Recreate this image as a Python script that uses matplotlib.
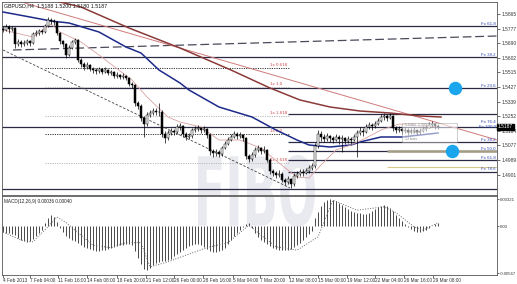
import numpy as np
import matplotlib
matplotlib.use("Agg")
import matplotlib.pyplot as plt
from matplotlib.patches import Rectangle, PathPatch
from matplotlib.textpath import TextPath
from matplotlib.font_manager import FontProperties
from matplotlib.transforms import Affine2D

plt.rcParams["font.family"] = ["Liberation Sans Narrow", "Liberation Sans", "DejaVu Sans"]

# GBPUSD H4 candles, open of each bar = previous close
first_open = 1.5775
close = [1.5769, 1.5787, 1.5775, 1.5781, 1.5685, 1.5697, 1.5685, 1.5691, 1.5703, 1.5691,
         1.5745, 1.5751, 1.5763, 1.5757, 1.5793, 1.5829, 1.5823, 1.5817, 1.5751, 1.5703,
         1.5685, 1.5619, 1.5661, 1.5697, 1.5709, 1.5589, 1.5565, 1.5547, 1.5559, 1.5535,
         1.5529, 1.5523, 1.5535, 1.5517, 1.5529, 1.5511, 1.5517, 1.5493, 1.5499, 1.5487,
         1.5493, 1.5481, 1.5445, 1.5439, 1.5331, 1.5313, 1.5241, 1.5205, 1.5259, 1.5271,
         1.5283, 1.5277, 1.5277, 1.5145, 1.5121, 1.5151, 1.5163, 1.5157, 1.5187, 1.5193,
         1.5145, 1.5127, 1.5133, 1.5169, 1.5175, 1.5181, 1.5169, 1.5175, 1.5139, 1.5043,
         1.5031, 1.5037, 1.5025, 1.5061, 1.5085, 1.5109, 1.5127, 1.5145, 1.5133, 1.5139,
         1.5121, 1.5013, 1.4995, 1.5019, 1.5049, 1.5061, 1.5043, 1.5049, 1.4989, 1.4923,
         1.4911, 1.4899, 1.4905, 1.4869, 1.4857, 1.4875, 1.4845, 1.4893, 1.4905, 1.4917,
         1.4911, 1.4923, 1.4941, 1.4953, 1.5073, 1.5145, 1.5127, 1.5115, 1.5133, 1.5121,
         1.5109, 1.5127, 1.5115, 1.5121, 1.5103, 1.5115, 1.5109, 1.5127, 1.5151, 1.5163,
         1.5157, 1.5187, 1.5199, 1.5193, 1.5205, 1.5223, 1.5247, 1.5253, 1.5241, 1.5253,
         1.5181, 1.5169, 1.5175, 1.5163, 1.5169, 1.5157, 1.5163, 1.5169, 1.5157, 1.5163,
         1.5175, 1.5181, 1.5199, 1.5205, 1.5193, 1.5187]
high = [1.5793, 1.5805, 1.5799, 1.5793, 1.5787, 1.5715, 1.5709, 1.5709, 1.5715, 1.5709,
        1.5757, 1.5769, 1.5775, 1.5775, 1.5805, 1.5847, 1.5841, 1.5835, 1.5823, 1.5757,
        1.5709, 1.5691, 1.5679, 1.5709, 1.5721, 1.5715, 1.5601, 1.5577, 1.5577, 1.5565,
        1.5547, 1.5541, 1.5547, 1.5541, 1.5547, 1.5535, 1.5529, 1.5523, 1.5517, 1.5505,
        1.5511, 1.5499, 1.5487, 1.5457, 1.5445, 1.5343, 1.5325, 1.5253, 1.5277, 1.5289,
        1.5301, 1.5301, 1.5331, 1.5289, 1.5163, 1.5169, 1.5181, 1.5175, 1.5205, 1.5211,
        1.5199, 1.5157, 1.5151, 1.5181, 1.5193, 1.5199, 1.5187, 1.5193, 1.5181, 1.5151,
        1.5055, 1.5055, 1.5049, 1.5073, 1.5103, 1.5127, 1.5145, 1.5163, 1.5157, 1.5157,
        1.5145, 1.5127, 1.5025, 1.5037, 1.5067, 1.5079, 1.5067, 1.5073, 1.5055, 1.5001,
        1.4935, 1.4923, 1.4929, 1.4917, 1.4881, 1.4893, 1.4881, 1.4911, 1.4923, 1.4935,
        1.4935, 1.4941, 1.4959, 1.4971, 1.5091, 1.5169, 1.5163, 1.5145, 1.5151, 1.5139,
        1.5133, 1.5145, 1.5139, 1.5139, 1.5127, 1.5133, 1.5127, 1.5145, 1.5169, 1.5187,
        1.5181, 1.5205, 1.5217, 1.5211, 1.5223, 1.5241, 1.5265, 1.5271, 1.5265, 1.5271,
        1.5259, 1.5193, 1.5193, 1.5187, 1.5187, 1.5181, 1.5181, 1.5187, 1.5175, 1.5181,
        1.5193, 1.5199, 1.5217, 1.5223, 1.5211, 1.5205]
low = [1.5757, 1.5763, 1.5751, 1.5763, 1.5661, 1.5673, 1.5667, 1.5673, 1.5679, 1.5673,
       1.5685, 1.5733, 1.5739, 1.5745, 1.5751, 1.5787, 1.5805, 1.5799, 1.5739, 1.5685,
       1.5667, 1.5601, 1.5613, 1.5655, 1.5685, 1.5577, 1.5547, 1.5529, 1.5535, 1.5523,
       1.5511, 1.5505, 1.5511, 1.5505, 1.5511, 1.5499, 1.5499, 1.5481, 1.5481, 1.5475,
       1.5475, 1.5469, 1.5433, 1.5421, 1.5313, 1.5295, 1.5223, 1.5127, 1.5193, 1.5247,
       1.5259, 1.5259, 1.5253, 1.5127, 1.5091, 1.5109, 1.5139, 1.5139, 1.5151, 1.5169,
       1.5127, 1.5109, 1.5115, 1.5121, 1.5157, 1.5163, 1.5151, 1.5157, 1.5121, 1.5019,
       1.5007, 1.5013, 1.5007, 1.5013, 1.5055, 1.5079, 1.5103, 1.5121, 1.5115, 1.5121,
       1.5103, 1.4995, 1.4977, 1.4983, 1.5007, 1.5037, 1.5025, 1.5031, 1.4977, 1.4905,
       1.4893, 1.4881, 1.4887, 1.4857, 1.4839, 1.4845, 1.4821, 1.4833, 1.4881, 1.4893,
       1.4893, 1.4905, 1.4911, 1.4929, 1.4941, 1.5061, 1.5103, 1.5097, 1.5103, 1.5097,
       1.5091, 1.5103, 1.5085, 1.5037, 1.5085, 1.5091, 1.5085, 1.5103, 1.5007, 1.5139,
       1.5133, 1.5151, 1.5175, 1.5169, 1.5181, 1.5199, 1.5217, 1.5229, 1.5223, 1.5235,
       1.5163, 1.5151, 1.5157, 1.5145, 1.5151, 1.5139, 1.5145, 1.5151, 1.5139, 1.5145,
       1.5157, 1.5163, 1.5181, 1.5187, 1.5175, 1.5175]

# moving averages, read at sample bars
blue_ma_bar = [0, 9, 16, 22, 32, 41, 46, 52, 59, 62, 72, 83, 91, 98, 102, 109, 116, 119, 126, 133, 145]
blue_ma = [1.5877, 1.5847, 1.5823, 1.5811, 1.5757, 1.5667, 1.5631, 1.5529, 1.5451, 1.5409, 1.5307,
           1.5247, 1.5169, 1.5109, 1.5079, 1.5067, 1.5079, 1.5097, 1.5127, 1.5127, 1.5151]
brown_ma_bar = [14, 19, 26, 42, 59, 76, 89, 99, 109, 119, 129, 139, 146]
brown_ma = [1.5997, 1.5937, 1.5907, 1.5781, 1.5661, 1.5529, 1.5421, 1.5349, 1.5307, 1.5283,
            1.5271, 1.5253, 1.5247]
pink_ma_bar = [0, 10, 16, 19, 26, 32, 43, 48, 55, 59, 66, 72, 79, 86, 92, 98, 102, 106, 111,
               116, 121, 126, 132, 139, 145]
pink_ma = [1.5769, 1.5727, 1.5805, 1.5757, 1.5697, 1.5619, 1.5469, 1.5367, 1.5247, 1.5217,
           1.5187, 1.5109, 1.5109, 1.5061, 1.4971, 1.4887, 1.4881, 1.4959, 1.5049, 1.5079,
           1.5121, 1.5169, 1.5205, 1.5193, 1.5187]

# trend lines (bar, price endpoints)
long_line = ([3.3, 164.7], [1.5649, 1.5733])
channel_line = ([0, 95.7], [1.5649, 1.4821])
red_trend = ([7.3, 164.7], [1.5931, 1.5109])

# horizontal levels
full_levels = [1.5793, 1.5607, 1.5421, 1.5187, 1.4815]
right_levels = [1.5265, 1.5097, 1.5043, 1.4989, 1.4919]
expansion_levels = [1.5541, 1.5427, 1.5253, 1.5145, 1.4971]
expansion_labels = ["1x 0.618", "1x 1.0", "1x 1.618", "1x 2.0", "1x 2.618"]
fib_labels = [("Fx 61.8", 1.5793), ("Fx 38.2", 1.5607), ("Fx 23.6", 1.5421),
              ("Fx 76.4", 1.5205), ("Fx 100.0", 1.5172), ("Fx 38.2", 1.5097),
              ("Fx 50.0", 1.5043), ("Fx 61.8", 1.4989), ("Fx 78.6", 1.4919)]
olive_level = 1.5043
khaki_level = 1.4947
circle_bar = [150.7, 149.7]
circle_price = [1.5421, 1.5043]
price_ticks = [1.5865, 1.5777, 1.5690, 1.5602, 1.5515, 1.5427, 1.5339, 1.5252,
               1.5164, 1.5077, 1.4989, 1.4901]
last_price = 1.5187

# MACD histogram and signal
macd_hist = [-0.0007, -0.0008, -0.0008, -0.001, -0.0011,
             -0.0014, -0.0017, -0.0018, -0.0019, -0.0018, -0.0016,
             -0.0012, -0.0008, -0.0005,
             0.0004, 0.001, 0.0013, 0.0011,
             0.0005, -0.0002,
             -0.0007, -0.0012, -0.0014, -0.0017, -0.0018, -0.002, -0.0023, -0.0025, -0.0026,
             -0.0028, -0.0029, -0.003, -0.003, -0.0029, -0.0029, -0.0028,
             -0.0026, -0.0025, -0.0024, -0.0023, -0.0023, -0.0022, -0.0022, -0.0023,
             -0.003, -0.0038, -0.0046, -0.0052, -0.0053, -0.005,
             -0.0047, -0.0044, -0.0043, -0.0042, -0.0042, -0.0041, -0.004,
             -0.0036, -0.0034, -0.0031, -0.0029, -0.0026, -0.0024, -0.0023, -0.0022, -0.0022,
             -0.0023, -0.0025, -0.0028, -0.003, -0.0031, -0.0031, -0.003, -0.0029, -0.0026,
             -0.0022, -0.0017, -0.0012, -0.0008, -0.0005, -0.0001, 0.0002, 0.0004, -0.0002, -0.0008, -0.0013,
             -0.0017, -0.0019, -0.0022, -0.0024, -0.0026, -0.0028, -0.0029, -0.0029, -0.0029, -0.0029, -0.0028,
             -0.0025, -0.0023, -0.002, -0.0017, -0.0013, -0.001, -0.0006,
             0.001, 0.0017, 0.0024, 0.0029, 0.0031, 0.0032, 0.0031, 0.003,
             0.0028, 0.0025, 0.0023, 0.002, 0.0018, 0.0017, 0.0016,
             0.0016, 0.0014, 0.0014, 0.0016,
             0.0018, 0.002, 0.0023, 0.0024, 0.0025, 0.0024, 0.0022,
             0.0018, 0.0013, 0.001, 0.0006,
             0.0002, -0.0001, -0.0004,
             -0.0006, -0.0007, -0.0007, -0.0006, -0.0005,
             -0.0002, 0.0, 0.0002, 0.0004]
signal_bar = [0, 6, 10, 15, 18, 21, 25, 30, 36, 41, 46, 49, 55, 61, 68, 75, 79, 82, 85, 91,
              98, 105, 110, 118, 127, 131, 137, 140, 145]
signal = [-0.0007, -0.0017, -0.0019, -0.0001, 0.0011, 0.0004, -0.0008, -0.0023, -0.0026,
          -0.002, -0.002, -0.0049, -0.0043, -0.0035, -0.0026, -0.002, -0.0008, 0.0001,
          -0.0008, -0.0025, -0.0029, -0.0013, 0.0031, 0.0019, 0.0023, 0.0016, -0.0001,
          -0.0005, 0.0004]
macd_ticks = [0.00321, 0.0, -0.00567]
macd_tick_labels = ["0.00321", "0.00", "-0.00567"]

date_bar = [0, 9, 18.3, 28, 38, 47.7, 57, 66.7, 76.7, 85.7, 95.3, 105, 114.7, 124, 133.7, 143.3]
date_labels = ["4 Feb 2013", "7 Feb 04:00", "11 Feb 16:00", "14 Feb 08:00", "18 Feb 20:00",
               "21 Feb 12:00", "26 Feb 00:00", "28 Feb 16:00", "5 Mar 04:00", "7 Mar 20:00",
               "12 Mar 08:00", "15 Mar 00:00", "19 Mar 12:00", "22 Mar 04:00", "26 Mar 16:00",
               "29 Mar 08:00"]

W, H = 517, 284
fig = plt.figure(figsize=(W / 100, H / 100), dpi=100)
fig.patch.set_facecolor("white")
ax = fig.add_axes([2 / W, 1 - 195 / H, 495 / W, 193 / H])
ax2 = fig.add_axes([2 / W, 1 - 275 / H, 495 / W, 79 / H])
for a in (ax, ax2):
    a.set_facecolor("none")
    a.set_xlim(-0.33, 164.67)
    for s in a.spines.values():
        s.set_linewidth(0.6)
        s.set_color("#555")
ax.set_ylim(1.4779, 1.5937)
ax2.set_ylim(-0.00588, 0.0036)

# FIBO watermark
tp = TextPath((0, 0), "FIBO", size=1, prop=FontProperties(family="DejaVu Sans", weight="bold"))
ext = tp.get_extents()
tr = (Affine2D().translate(-ext.x0, -ext.y0)
      .scale((117 / W) / ext.width, (72 / H) / ext.height)
      .translate(198 / W, 1 - 227 / H) + fig.transFigure)
fig.add_artist(PathPatch(tp, transform=tr, facecolor="#e8eaf0", edgecolor="none", zorder=-5))

# horizontal levels
for p in full_levels:
    ax.axhline(p, color="#2a2a45", lw=0.9, zorder=2)
ax.hlines(right_levels, 95, 164.67, color="#2a2a45", lw=0.9, zorder=2)
ax.hlines(olive_level, 128, 164.67, color="#a39d86", lw=1.8, zorder=2)
ax.hlines(khaki_level, 128, 164.67, color="#d8c98f", lw=0.8, zorder=2)
for i, (p, t) in enumerate(zip(expansion_levels, expansion_labels)):
    col = "#333333" if i in (0, 3) else "#b8b8b8"
    ax.hlines(p, 14, 95.7, color=col, lw=0.7, linestyles=(0, (1.2, 1.2)), zorder=2)
    ax.text(89, p + 0.0004, t, fontsize=3.2, color="#d04545", ha="left", va="bottom", zorder=3)
for t, p in fib_labels:
    ax.text(164.2, p + 0.0002, t, fontsize=3.2, color="#2c44b0", ha="right", va="bottom", zorder=3)

# trend lines
ax.plot(*long_line, color="#4a4a5a", lw=0.9, dashes=(7, 3), zorder=2)
ax.plot(*channel_line, color="#444", lw=0.6, dashes=(3, 2), zorder=2)
ax.plot(*red_trend, color="#cf7a7a", lw=0.7, zorder=2)

# moving averages
ax.plot(brown_ma_bar, brown_ma, color="#8a3b38", lw=1.1, zorder=3)
ax.plot(blue_ma_bar, blue_ma, color="#1c2a8a", lw=1.1, zorder=3)
ax.plot(pink_ma_bar, pink_ma, color="#d9a2a2", lw=0.6, zorder=3)

# candles
idx = np.arange(len(close))
c = np.array(close)
o = np.concatenate([[first_open], c[:-1]])
ax.vlines(idx, low, high, color="black", lw=0.5, zorder=4)
body = np.maximum(np.abs(c - o), 0.0002)
ax.bar(idx, body, bottom=np.minimum(o, c), width=0.55,
       color=np.where(c >= o, "white", "black"), edgecolor="black", linewidth=0.35, zorder=5)

# measurement box
ax.add_patch(Rectangle((133, 1.5097), 18.3, 0.0114, facecolor="white", alpha=0.55,
                       edgecolor="#9a9a9a", lw=0.6, zorder=6))
ax.text(134, 1.5190, "1.5265  1.5097", fontsize=2.6, color="#888", zorder=7)
ax.text(134, 1.5150, "-168 pips", fontsize=2.6, color="#888", zorder=7)
ax.text(134, 1.5110, "13 bars", fontsize=2.6, color="#888", zorder=7)

ax.scatter(circle_bar, circle_price, s=75, color="#1aa5ec", zorder=8)

ax.text(0.004, 0.992, "GBPUSD,H4  1.5188 1.5200 1.5180 1.5187", transform=ax.transAxes,
        fontsize=3.8, va="top", ha="left", color="#111", zorder=12)

ax.yaxis.tick_right()
ax.set_yticks(price_ticks)
ax.set_yticklabels([f"{v:.4f}" for v in price_ticks])
ax.tick_params(axis="y", labelsize=3.5, length=2, width=0.5, pad=1, colors="#333")
ax.set_xticks([])
ax.text(1.002, last_price, f"{last_price:.4f}", transform=ax.get_yaxis_transform(),
        fontsize=3.5, color="white", va="center", ha="left", clip_on=False, zorder=12,
        bbox=dict(boxstyle="square,pad=0.15", fc="black", ec="black"))

# MACD panel
ax2.vlines(idx, 0, macd_hist, color="#474747", lw=0.7)
ax2.plot(signal_bar, signal, ls=":", color="#666", lw=0.7)
ax2.text(0.004, 0.96, "MACD(12,26,9) 0.00036 0.00040", transform=ax2.transAxes,
         fontsize=3.3, va="top", ha="left", color="#222")
ax2.yaxis.tick_right()
ax2.set_yticks(macd_ticks)
ax2.set_yticklabels(macd_tick_labels)
ax2.tick_params(axis="y", labelsize=3.1, length=1.5, width=0.5, pad=0.5, colors="#333")
ax2.set_xticks(date_bar)
ax2.set_xticklabels(date_labels)
ax2.tick_params(axis="x", labelsize=3.4, length=2, width=0.5, pad=0.5, colors="#333")
for lbl in ax2.get_xticklabels():
    lbl.set_ha("left")

fig.savefig("out.png", dpi=100)
